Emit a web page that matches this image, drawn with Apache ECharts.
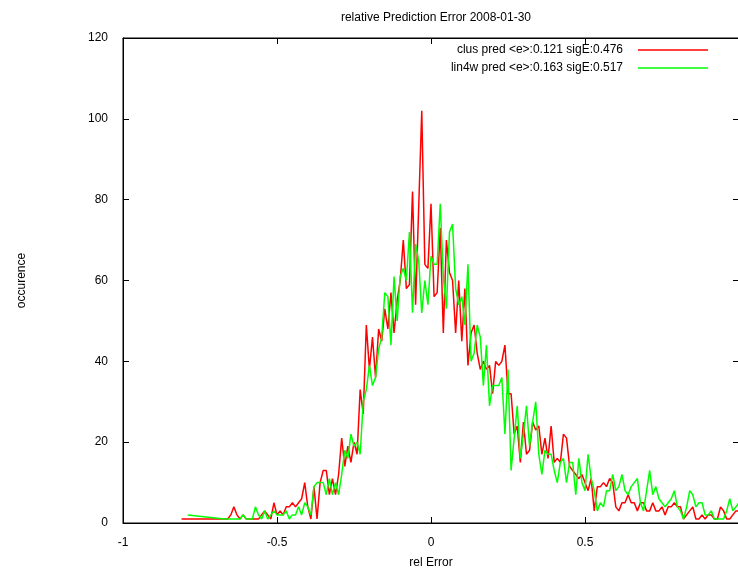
<!DOCTYPE html>
<html>
<head>
<meta charset="utf-8">
<script src="https://cdn.jsdelivr.net/npm/echarts@6/dist/echarts.min.js"></script>
<style>html,body{margin:0;padding:0;background:#fff}#c{width:738px;height:574px}</style>
</head>
<body>
<div id="c"></div>
<script>
// Bin grid (rel Error), start and width of the histogram bins
const binStart = -0.81;
const binWidth = 0.01;
const xTicks = [-1, -0.5, 0, 0.5, 1];
const yTicks = [0, 20, 40, 60, 80, 100, 120];
const seriesNames = ['clus pred <e>:0.121 sigE:0.476', 'lin4w pred <e>:0.163 sigE:0.517'];

// occurrence counts per bin (null = empty bin, not plotted)
const clusCounts = [
  1, null, null, null, null, null, null, null, null, null, null, null, null, null, null,
  1, 2, 4, 2, 1, 2, 1, 1, 1, 1,
  1, 2, 3, 2, 1, 5, 2, 3, 2, 4,
  4, 5, 4, 5, 6, 10, 4, 1, 9, 1,
  10, 13, 13, 7, 11, 7, 12, 21, 14, 19,
  15, 20, 17, 33, 27, 49, 38, 46, 36, 48,
  45, 53, 48, 57, 47, 55, 60, 70, 58, 59,
  82, 54, 78, 102, 64, 63, 79, 56, 57, 73,
  47, 70, 62, 60, 47, 60, 45, 58, 39, 47,
  49, 42, 38, 40, 38, 39, 32, 40, 39, 40,
  44, 32, 32, 22, 24, 15, 25, 17, 18, 25,
  23, 24, 17, 21, 16, 24, 15, 16, 15, 22,
  21, 14, 13, 12, 11, 12, 10, 8, 11, 3,
  9, 9, 10, 9, 11, 10, 4, 3, 5, 5,
  7, 5, 5, 3, 5, 5, 3, 3, 5, 3,
  3, 4, 2, 4, 4, 5, 4, 4, 1, 2,
  3, 4, 1, 1, 2, 1, 2, 2, 1, 1,
  4, 3, 1, 1, 2, 3, 3
];
const lin4wCounts = [
  null, null, 2, null, null, null, null, null, null, null, null, null, null, null, 1,
  null, 1, 1, 1, 1, 2, 1, 1, 1, 4,
  2, 1, 3, 1, 2, 3, 2, 2, 2, 3,
  1, 2, 2, 4, 2, 5, 4, 2, 9, 10,
  10, 10, 7, 11, 7, 10, 7, 12, 18, 16,
  22, 19, 20, 17, 30, 33, 39, 34, 36, 43,
  46, 57, 56, 44, 61, 50, 61, 63, 60, 72,
  52, 69, 65, 52, 60, 54, 66, 64, 64, 79,
  61, 53, 72, 74, 58, 54, 56, 49, 64, 40,
  42, 49, 46, 34, 44, 29, 34, 34, 34, 36,
  22, 38, 13, 21, 29, 16, 22, 29, 19, 25,
  30, 17, 12, 18, 17, 17, 13, 10, 15, 16,
  10, 15, 15, 7, 16, 10, 8, 17, 11, 8,
  3, 5, 4, 8, 8, 12, 8, 9, 12, 8,
  7, 9, 10, 11, 5, 3, 8, 13, 7, 9,
  6, 5, 4, 5, 6, 8, 4, 3, 1, 4,
  8, 7, 4, 5, 5, 2, 2, 3, 1, 1,
  1, 1, 3, 6, 3, 4, 5
];

function toPairs(counts) {
  const out = [];
  counts.forEach((v, i) => {
    if (v !== null) out.push([Math.round((binStart + i * binWidth) * 100) / 100, v]);
  });
  return out;
}

const FONT = "'Liberation Sans', Arial, sans-serif";
const chart = echarts.init(document.getElementById('c'), null, {renderer: 'canvas'});
const tickStyle = {show: true, inside: true, length: 6, lineStyle: {color: '#000', width: 1}};
chart.setOption({
  animation: false,
  backgroundColor: '#fff',
  title: {
    text: 'relative Prediction Error 2008-01-30',
    left: 431, top: 7, textAlign: 'center',
    textStyle: {fontFamily: FONT, fontSize: 12, fontWeight: 'normal', color: '#000'}
  },
  legend: {
    orient: 'vertical', align: 'right',
    right: 25, top: 38,
    icon: 'rect',
    itemWidth: 70, itemHeight: 1.5, itemGap: 4,
    data: seriesNames,
    textStyle: {fontFamily: FONT, fontSize: 12, color: '#000', padding: [0, 10, 0, 0], lineHeight: 14}
  },
  grid: {left: 123, top: 38, width: 616, height: 485, outerBoundsMode: 'none', containLabel: false,
         show: true, borderColor: '#000', borderWidth: 1, backgroundColor: 'transparent'},
  xAxis: [{
    type: 'value', min: xTicks[0], max: xTicks[xTicks.length - 1], interval: 0.5,
    name: 'rel Error', nameLocation: 'middle', nameGap: 34,
    nameTextStyle: {fontFamily: FONT, fontSize: 12, color: '#000'},
    axisLine: {show: true, onZero: false, lineStyle: {color: '#000'}},
    axisTick: tickStyle,
    axisLabel: {fontFamily: FONT, fontSize: 12, color: '#000', margin: 14, showMaxLabel: false, formatter: v => String(v)},
    splitLine: {show: false}
  }, {
    type: 'value', position: 'top', min: xTicks[0], max: xTicks[xTicks.length - 1], interval: 0.5,
    axisLine: {show: true, onZero: false, lineStyle: {color: '#000'}},
    axisTick: tickStyle, axisLabel: {show: false}, splitLine: {show: false}
  }],
  yAxis: [{
    type: 'value', min: yTicks[0], max: yTicks[yTicks.length - 1], interval: 20,
    name: 'occurence', nameLocation: 'middle', nameGap: 95, nameRotate: 90,
    nameTextStyle: {fontFamily: FONT, fontSize: 12, color: '#000'},
    axisLine: {show: true, onZero: false, lineStyle: {color: '#000'}},
    axisTick: tickStyle,
    axisLabel: {fontFamily: FONT, fontSize: 12, color: '#000', margin: 15},
    splitLine: {show: false}
  }, {
    type: 'value', position: 'right', min: yTicks[0], max: yTicks[yTicks.length - 1], interval: 20,
    axisLine: {show: true, onZero: false, lineStyle: {color: '#000'}},
    axisTick: tickStyle, axisLabel: {show: false}, splitLine: {show: false}
  }],
  series: [{
    name: seriesNames[0], type: 'line', data: toPairs(clusCounts),
    showSymbol: false, symbol: 'none', color: '#ff0000',
    lineStyle: {color: '#ff0000', width: 1.5}, z: 2
  }, {
    name: seriesNames[1], type: 'line', data: toPairs(lin4wCounts),
    showSymbol: false, symbol: 'none', color: '#00ff00',
    lineStyle: {color: '#00ff00', width: 1.5}, z: 3
  }]
});
</script>
</body>
</html>
